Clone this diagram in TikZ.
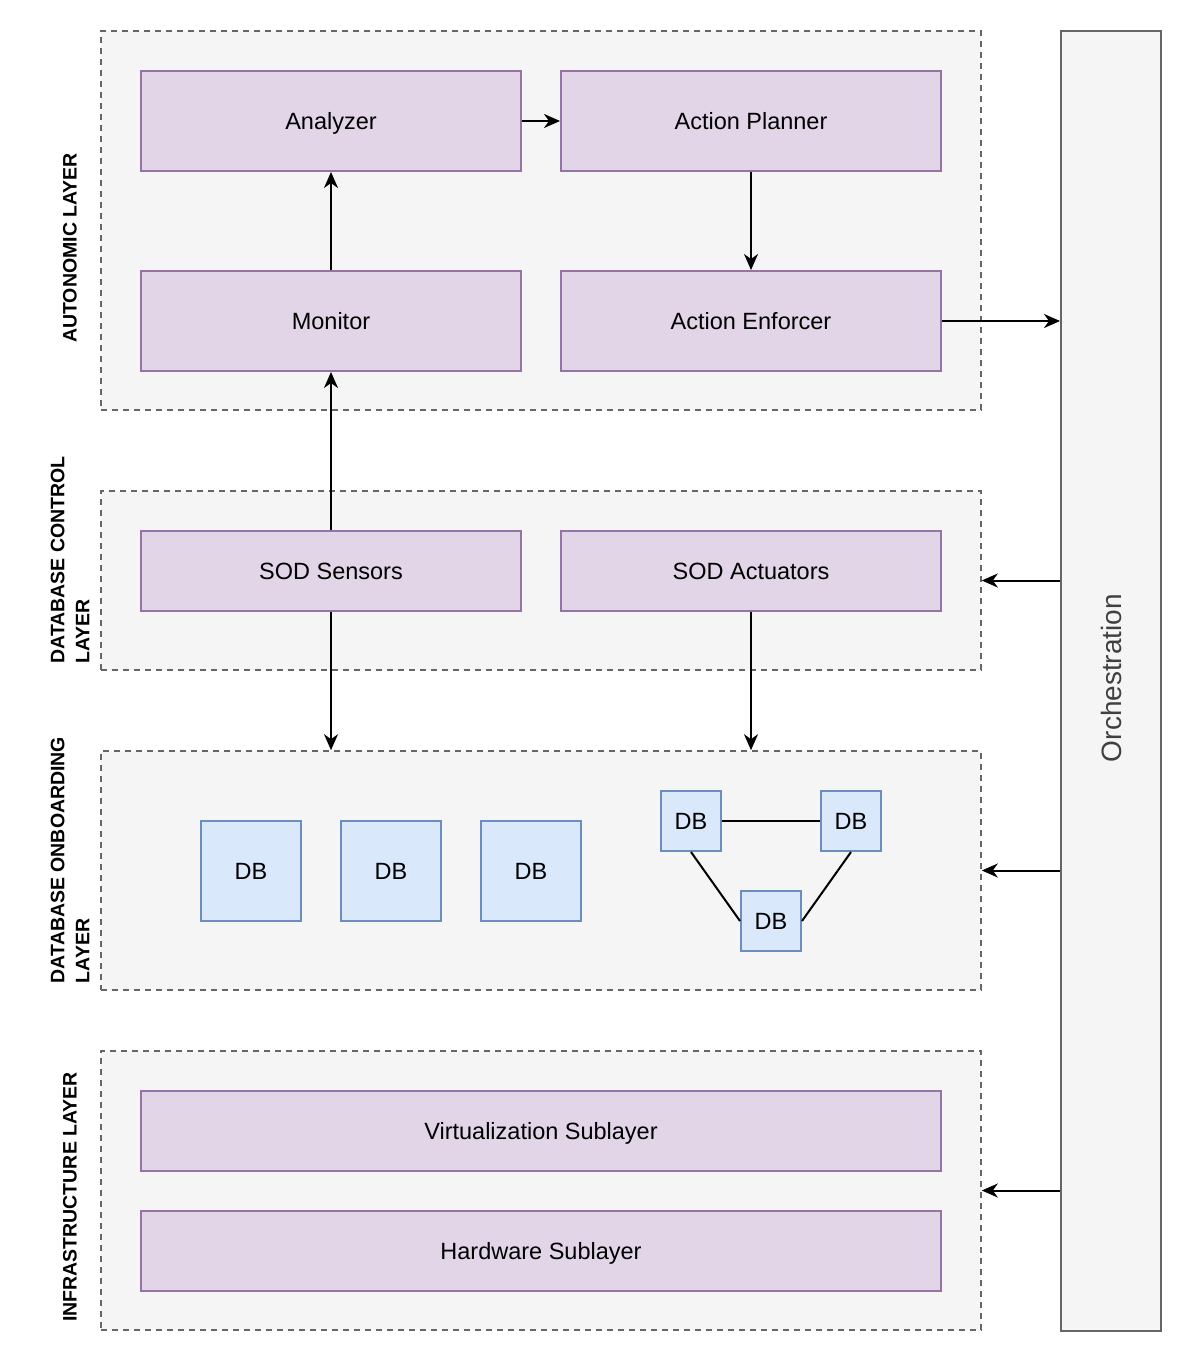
\documentclass[tikz,border=0pt]{standalone}
\usepackage{fontspec}
\setmainfont{Liberation Sans}
\usetikzlibrary{arrows.meta}
\definecolor{layerfill}{HTML}{F5F5F5}
\definecolor{layerline}{HTML}{666666}
\definecolor{procfill}{HTML}{E1D5E7}
\definecolor{procline}{HTML}{9673A6}
\definecolor{dbfill}{HTML}{DAE8FC}
\definecolor{dbline}{HTML}{6C8EBF}
\tikzset{
  layer/.style={draw=layerline, fill=layerfill, line width=1.6pt,
    dash pattern=on 6pt off 5pt, inner sep=0pt},
  boxtext/.style={font=\fontsize{23.5}{28}\selectfont, text height=17pt, text depth=0pt},
  proc/.style={draw=procline, fill=procfill, line width=2pt, inner sep=0pt, boxtext},
  dbbox/.style={draw=dbline, fill=dbfill, line width=2pt, inner sep=0pt, boxtext},
  orch/.style={draw=layerline, fill=layerfill, line width=2pt, inner sep=0pt},
  layertitle/.style={rotate=90, align=left, inner sep=0pt,
    font=\bfseries\fontsize{19.5}{25}\selectfont},
  flow/.style={line width=2pt, -{Stealth[length=16pt,width=14pt,inset=5pt]}},
  link/.style={line width=2pt}
}
\begin{document}
\begin{tikzpicture}[x=1pt,y=-1pt]
\useasboundingbox (0,0) rectangle (1192,1362);

% layer containers
\node[layer, minimum width=880pt, minimum height=379pt] (auto) at (541,220.5) {};
\node[layer, minimum width=880pt, minimum height=179pt] (ctrl) at (541,580.5) {};
\node[layer, minimum width=880pt, minimum height=239pt] (onb) at (541,870.5) {};
\node[layer, minimum width=880pt, minimum height=279pt] (infra) at (541,1190.5) {};

% orchestration column
\node[orch, minimum width=100pt, minimum height=1300pt] (orch) at (1111,681) {};
\node[rotate=90, font=\fontsize{28}{32}\selectfont, text=black!75] (orchlabel) at (1111,678) {Orchestration};

% layer titles
\node[layertitle] (tauto) at (70,248) {AUTONOMIC LAYER};
\node[layertitle] (tctrl) at (70,560) {DATABASE CONTROL\\LAYER};
\node[layertitle] (tonb) at (70,860) {DATABASE ONBOARDING\\LAYER};
\node[layertitle] (tinfra) at (70,1197) {INFRASTRUCTURE LAYER};

% autonomic loop
\node[proc, minimum width=380pt, minimum height=100pt] (analyzer) at (331,121) {Analyzer};
\node[proc, minimum width=380pt, minimum height=100pt] (planner) at (751,121) {Action Planner};
\node[proc, minimum width=380pt, minimum height=100pt] (monitor) at (331,321) {Monitor};
\node[proc, minimum width=380pt, minimum height=100pt] (enforcer) at (751,321) {Action Enforcer};

% control layer
\node[proc, minimum width=380pt, minimum height=80pt] (sensors) at (331,571) {SOD Sensors};
\node[proc, minimum width=380pt, minimum height=80pt] (actuators) at (751,571) {SOD Actuators};

% onboarded databases
\node[dbbox, minimum width=100pt, minimum height=100pt] (db1) at (251,871) {DB};
\node[dbbox, minimum width=100pt, minimum height=100pt] (db2) at (391,871) {DB};
\node[dbbox, minimum width=100pt, minimum height=100pt] (db3) at (531,871) {DB};
\node[dbbox, minimum width=60pt, minimum height=60pt] (dba) at (691,821) {DB};
\node[dbbox, minimum width=60pt, minimum height=60pt] (dbb) at (851,821) {DB};
\node[dbbox, minimum width=60pt, minimum height=60pt] (dbc) at (771,921) {DB};

% infrastructure
\node[proc, minimum width=800pt, minimum height=80pt] (virt) at (541,1131) {Virtualization Sublayer};
\node[proc, minimum width=800pt, minimum height=80pt] (hw) at (541,1251) {Hardware Sublayer};

% cluster links
\draw[link] (dba.east) -- (dbb.west);
\draw[link] (dba.south) -- (dbc.west);
\draw[link] (dbb.south) -- (dbc.east);

% flows
\draw[flow] (analyzer.east) -- (planner.west);
\draw[flow] (planner.south) -- (enforcer.north);
\draw[flow] (monitor.north) -- (analyzer.south);
\draw[flow] (enforcer.east) -- (enforcer.east -| orch.west);
\draw[flow] (sensors.north) -- (monitor.south);
\draw[flow] (sensors.south) -- (sensors.south |- onb.north);
\draw[flow] (actuators.south) -- (actuators.south |- onb.north);
\draw[flow] (ctrl.east -| orch.west) -- (ctrl.east);
\draw[flow] (onb.east -| orch.west) -- (onb.east);
\draw[flow] (infra.east -| orch.west) -- (infra.east);
\end{tikzpicture}
\end{document}
